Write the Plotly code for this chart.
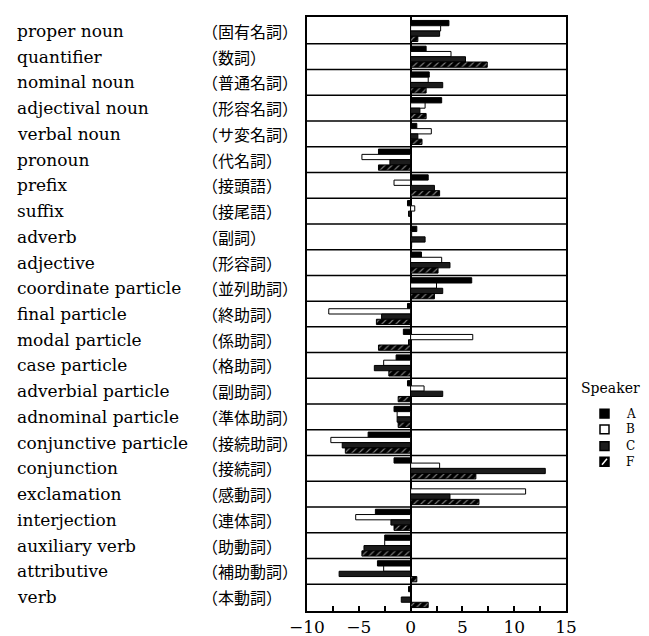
import plotly.graph_objects as go

categories_en = ["proper noun", "quantifier", "nominal noun", "adjectival noun", "verbal noun",
                 "pronoun", "prefix", "suffix", "adverb", "adjective", "coordinate particle",
                 "final particle", "modal particle", "case particle", "adverbial particle",
                 "adnominal particle", "conjunctive particle", "conjunction", "exclamation",
                 "interjection", "auxiliary verb", "attributive", "verb"]
categories_ja = ["固有名詞", "数詞", "普通名詞", "形容名詞", "サ変名詞", "代名詞", "接頭語", "接尾語",
                 "副詞", "形容詞", "並列助詞", "終助詞", "係助詞", "格助詞", "副助詞", "準体助詞",
                 "接続助詞", "接続詞", "感動詞", "連体詞", "助動詞", "補助動詞", "本動詞"]

speakers = ["A", "B", "C", "F"]
values_A = [3.7, 1.5, 1.8, 3.0, 0.6, -3.1, 1.7, -0.3, 0.6, 1.05, 5.9, -0.3, -0.7, -1.4, -0.3,
            -1.6, -4.1, -1.6, 0.05, -3.4, -2.5, -3.2, -0.2]
values_B = [2.9, 3.9, 1.7, 1.4, 2.0, -4.7, -1.6, 0.4, 0.1, 3.0, 2.5, -7.9, 6.0, -2.6, 1.3,
            -1.3, -7.7, 2.8, 11.1, -5.3, -2.5, -2.6, 0.0]
values_C = [2.8, 5.3, 3.1, 0.9, 0.7, -2.0, 2.3, -0.2, 1.4, 3.8, 3.1, -2.8, -0.2, -3.5, 3.1,
            -1.3, -6.6, 13.0, 3.8, -1.9, -4.5, -6.9, -0.9]
values_F = [0.7, 7.4, 1.5, 1.5, 1.1, -3.1, 2.8, 0.0, 0.1, 2.65, 2.3, -3.3, -3.1, -2.1, -1.2,
            -1.2, -6.3, 6.3, 6.6, -1.6, -4.7, 0.6, 1.7]
x_ticks = [-10, -5, 0, 5, 10, 15]

SERIF = "DejaVu Serif"
CJK = "Noto Sans CJK JP"

series = {"A": values_A, "B": values_B, "C": values_C, "F": values_F}
styles = {
    "A": dict(color="black"),
    "B": dict(color="white"),
    "C": dict(color="#1c1c1c"),
    "F": dict(color="black", pattern=dict(shape="/", fgcolor="white", bgcolor="black",
                                          size=5, solidity=0.22)),
}

fig = go.Figure()
for s in speakers:
    fig.add_trace(go.Bar(
        y=categories_en, x=series[s], orientation="h", name=s,
        marker=dict(**styles[s], line=dict(color="black", width=1)),
        showlegend=False,
    ))

# plot geometry (pixels)
L, R, T, B = 299, 558, 7, 612
W, H = 649, 636
pw, ph = R - L, B - T

def px_x(p):
    return (p - L) / pw

def px_y(p):
    return (B - p) / ph

shapes = []
for i in range(len(categories_en) - 1):
    shapes.append(dict(type="line", xref="paper", yref="y", x0=0, x1=1, y0=i + 0.5, y1=i + 0.5,
                       line=dict(color="black", width=1.5)))

annotations = []
for en, ja in zip(categories_en, categories_ja):
    annotations.append(dict(xref="paper", yref="y", x=px_x(7), y=en, text=en, showarrow=False,
                            xanchor="left", yanchor="middle",
                            font=dict(family=SERIF, size=17, color="black")))
    annotations.append(dict(xref="paper", yref="y", x=px_x(192), y=en, text="（" + ja + "）",
                            showarrow=False, xanchor="left", yanchor="middle",
                            font=dict(family=CJK, size=16, color="black")))

# manual legend
annotations.append(dict(xref="paper", yref="paper", x=px_x(571), y=px_y(385), text="Speaker",
                        showarrow=False, xanchor="left", yanchor="middle",
                        font=dict(family=SERIF, size=14, color="black")))
leg_y = [411, 427, 444, 460]
for s, yy in zip(speakers, leg_y):
    fill = "white" if s == "B" else ("#1c1c1c" if s == "C" else "black")
    shapes.append(dict(type="rect", xref="paper", yref="paper",
                       x0=px_x(592), x1=px_x(601), y0=px_y(yy - 4.5), y1=px_y(yy + 4.5),
                       fillcolor=fill, line=dict(color="black", width=1.5)))
    if s == "F":
        shapes.append(dict(type="line", xref="paper", yref="paper",
                           x0=px_x(594), x1=px_x(599), y0=px_y(yy + 3), y1=px_y(yy - 3),
                           line=dict(color="white", width=1.5)))
    annotations.append(dict(xref="paper", yref="paper", x=px_x(616), y=px_y(yy), text=s,
                            showarrow=False, xanchor="left", yanchor="middle",
                            font=dict(family=SERIF, size=12, color="black")))

fig.update_layout(
    width=W, height=H,
    margin=dict(l=L, r=W - R, t=T, b=H - B, pad=0),
    paper_bgcolor="white", plot_bgcolor="white",
    barmode="group", bargap=0.18, bargroupgap=0.0,
    shapes=shapes, annotations=annotations,
    showlegend=False,
    xaxis=dict(range=[-10, 15], tickvals=x_ticks, ticks="inside", ticklen=5, tickwidth=1.5,
               tickcolor="black", showgrid=False, zeroline=True, zerolinecolor="black",
               zerolinewidth=2, showline=True, linecolor="black", linewidth=2, mirror=True,
               tickfont=dict(family=SERIF, size=17, color="black"),
               minor=dict(dtick=2.5, ticks="inside", ticklen=5, tickcolor="black", showgrid=False)),
    yaxis=dict(categoryorder="array", categoryarray=categories_en, autorange="reversed",
               showticklabels=False, ticks="", showgrid=False, zeroline=False,
               showline=True, linecolor="black", linewidth=2, mirror=True),
)

fig.write_html("out.html")
